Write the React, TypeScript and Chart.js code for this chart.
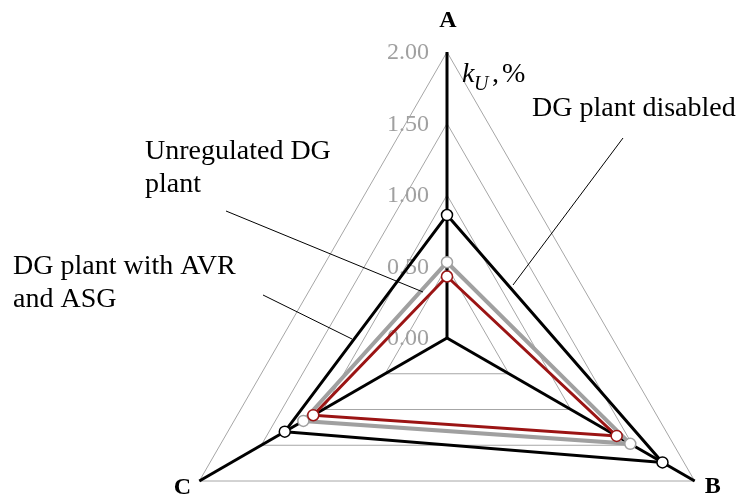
import React, { useEffect, useRef } from 'react';
import { Chart, registerables } from 'chart.js';

Chart.register(...registerables);

// ---- data ----
const axisLabels = ['A', 'B', 'C'];
const tickValues = [0, 0.5, 1, 1.5, 2];
const tickLabels = ['0.00', '0.50', '1.00', '1.50', '2.00'];
const seriesNames = ['DG plant disabled', 'Unregulated DG plant', 'DG plant with AVR and ASG'];
const disabledValues = [0.86, 1.74, 1.31];
const unregulatedValues = [0.53, 1.48, 1.16];
const avrValues = [0.43, 1.37, 1.08];

const SERIF = '"Liberation Serif", "Times New Roman", serif';

const overlayPlugin = {
  id: 'overlay',
  beforeDatasetsDraw(chart: any) {
    const scale = chart.scales.r;
    const ctx = chart.ctx;
    ctx.save();
    ctx.font = `24px ${SERIF}`;
    ctx.fillStyle = '#a0a0a0';
    ctx.textAlign = 'right';
    ctx.textBaseline = 'middle';
    tickValues.forEach((v, i) => {
      const p = scale.getPointPositionForValue(0, v);
      ctx.fillText(tickLabels[i], p.x - 18, p.y + 1);
    });
    ctx.restore();
  },
  afterDraw(chart: any) {
    const scale = chart.scales.r;
    const ctx = chart.ctx;
    ctx.save();
    // axis (point) labels
    const offs = [
      [1, -31],
      [18, 6],
      [-17, 7],
    ];
    ctx.font = `bold 24px ${SERIF}`;
    ctx.fillStyle = '#000';
    ctx.textAlign = 'center';
    ctx.textBaseline = 'middle';
    axisLabels.forEach((lab, i) => {
      const p = scale.getPointPosition(i, scale.drawingArea);
      ctx.fillText(lab, p.x + offs[i][0], p.y + offs[i][1]);
    });

    // unit label k_U,%
    ctx.textAlign = 'left';
    ctx.textBaseline = 'alphabetic';
    ctx.font = `italic 28px ${SERIF}`;
    ctx.fillText('k', 462, 82);
    ctx.font = `italic 20px ${SERIF}`;
    ctx.fillText('U', 474, 90);
    ctx.font = `28px ${SERIF}`;
    ctx.fillText(',', 492, 82);
    ctx.fillText('%', 502, 82);

    // series annotations
    ctx.font = `28px ${SERIF}`;
    ctx.fillText(seriesNames[0], 532, 116);
    ctx.fillText('Unregulated DG', 145, 159);
    ctx.fillText('plant', 145, 192);
    ctx.fillText('DG plant with AVR', 13, 274);
    ctx.fillText('and ASG', 13, 307);

    // leader lines
    ctx.strokeStyle = '#000';
    ctx.lineWidth = 1;
    const leaders = [
      [623, 138, 513, 285],
      [226, 211, 423, 292],
      [263, 295, 352, 339],
    ];
    leaders.forEach(([x1, y1, x2, y2]) => {
      ctx.beginPath();
      ctx.moveTo(x1, y1);
      ctx.lineTo(x2, y2);
      ctx.stroke();
    });
    ctx.restore();
  },
};

export default function App() {
  const ref = useRef<HTMLCanvasElement | null>(null);

  useEffect(() => {
    if (!ref.current) return;
    const chart = new Chart(ref.current, {
      type: 'radar',
      data: {
        labels: axisLabels,
        datasets: [
          {
            label: seriesNames[0],
            data: disabledValues,
            borderColor: '#000000',
            borderWidth: 3,
            pointBackgroundColor: '#ffffff',
            pointBorderColor: '#000000',
            pointBorderWidth: 1.5,
            pointRadius: 5.5,
            fill: false,
            order: 3,
          },
          {
            label: seriesNames[1],
            data: unregulatedValues,
            borderColor: '#a0a0a0',
            borderWidth: 4,
            pointBackgroundColor: '#ffffff',
            pointBorderColor: '#a0a0a0',
            pointBorderWidth: 1.5,
            pointRadius: 5.5,
            fill: false,
            order: 2,
          },
          {
            label: seriesNames[2],
            data: avrValues,
            borderColor: '#9b1414',
            borderWidth: 3,
            pointBackgroundColor: '#ffffff',
            pointBorderColor: '#9b1414',
            pointBorderWidth: 1.5,
            pointRadius: 5.5,
            fill: false,
            order: 1,
          },
        ],
      },
      options: {
        responsive: false,
        maintainAspectRatio: false,
        animation: false,
        layout: { padding: { left: 161, right: 10, top: 52, bottom: 76 } },
        plugins: { legend: { display: false }, tooltip: { enabled: false } },
        elements: { line: { tension: 0 } },
        scales: {
          r: {
            min: 0,
            max: 2,
            ticks: { stepSize: 0.5, display: false },
            grid: { color: '#a6a6a6', lineWidth: 1, circular: false },
            angleLines: { color: '#000000', lineWidth: 3 },
            pointLabels: { display: false },
          },
        },
      },
      plugins: [overlayPlugin],
    });
    return () => chart.destroy();
  }, []);

  return (
    <div
      style={{
        position: 'fixed',
        left: 0,
        top: 0,
        width: 743,
        height: 494,
        overflow: 'hidden',
        background: '#ffffff',
      }}
    >
      <canvas ref={ref} width={743} height={700} style={{ display: 'block' }} />
    </div>
  );
}
